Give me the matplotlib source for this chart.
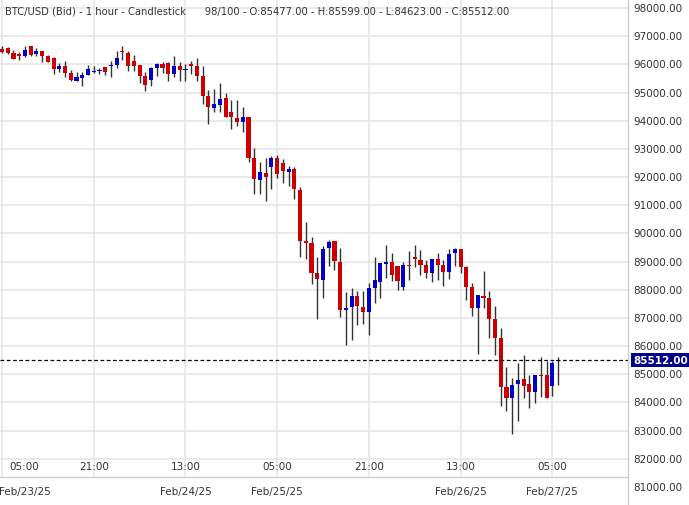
import matplotlib.pyplot as plt
import numpy as np

# hourly OHLC, Feb/23/25 05:00 onwards
opens = [96545, 96580, 96405, 96370, 96310, 96650, 96380, 96475, 96295, 96225,
         95850, 95940, 95695, 95420, 95530, 95635, 95715, 95750, 95905, 95930,
         95990, 96440, 96405, 96120, 95980, 95590, 95455, 95885, 96015, 96050,
         95670, 95940, 95790, 96010, 95940, 95600, 94890, 94465, 94560, 94805,
         94310, 94095, 93960, 94130, 92675, 91910, 92145, 92370, 92675, 92500,
         92190, 92285, 91540, 89730, 89660, 88595, 88360, 89495, 89730, 88985,
         87295, 87400, 87765, 87390, 87225, 88065, 88290, 88925, 88985, 88845,
         88110, 88890, 89165, 89055, 88880, 88610, 89090, 88880, 88640, 89295,
         89445, 88820, 88100, 87355, 87780, 87710, 86965, 86275, 84560, 84145,
         84645, 84835, 84655, 84385, 84975, 84975, 84585, 85477]
closes = [96450, 96405, 96200, 96310, 96510, 96345, 96475, 96310, 96095, 95850,
          95940, 95705, 95455, 95550, 95625, 95835, 95730, 95765, 95730, 95980,
          96225, 96425, 95955, 95955, 95600, 95280, 95870, 96015, 95885, 95660,
          95940, 95800, 95800, 95950, 95600, 94890, 94500, 94595, 94770, 94145,
          94145, 93960, 94130, 92690, 91945, 92180, 92015, 92675, 92120, 92225,
          92285, 91575, 89745, 89670, 88605, 88380, 89445, 89705, 89035, 87295,
          87355, 87765, 87435, 87225, 88050, 88345, 88950, 88985, 88535, 88325,
          88880, 88855, 89090, 88890, 88610, 89090, 88890, 88640, 89270, 89445,
          88820, 88110, 87355, 87815, 87710, 86965, 86275, 84560, 84145, 84620,
          84800, 84595, 84385, 84975, 84950, 84170, 85400, 85512]
highs = [96640, 96615, 96520, 96450, 96650, 96650, 96580, 96475, 96330, 96250,
         96060, 96120, 95800, 95730, 95740, 95980, 95930, 95870, 95905, 96110,
         96475, 96650, 96460, 96335, 95980, 95740, 95920, 96050, 96070, 96070,
         96295, 96095, 96025, 96120, 96225, 95955, 95090, 95125, 95340, 94985,
         94735, 94735, 94475, 94130, 93030, 92535, 92675, 92760, 92780, 92640,
         92380, 92370, 91660, 90405, 89875, 89165, 89565, 89765, 89730, 89480,
         87935, 88050, 87955, 87955, 88240, 89175, 88950, 89590, 89305, 88845,
         88975, 89365, 89590, 89410, 89055, 89090, 89305, 89070, 89445, 89480,
         89445, 88855, 88240, 87815, 88665, 87955, 87435, 86645, 85260, 84870,
         85400, 85685, 84975, 84975, 85615, 85460, 85485, 85599]
lows = [96405, 96370, 96190, 96165, 96275, 96310, 96285, 96095, 96095, 95670,
        95740, 95565, 95420, 95420, 95245, 95635, 95680, 95660, 95635, 95565,
        95885, 96155, 95765, 95765, 95340, 95065, 95245, 95600, 95695, 95420,
        95565, 95400, 95400, 95670, 95420, 94595, 93880, 94295, 94320, 94145,
        93705, 93825, 93610, 92545, 91400, 91400, 91160, 91575, 91965, 91790,
        91695, 91220, 89175, 89090, 88215, 86960, 87695, 88855, 88715, 87045,
        86050, 86230, 86760, 86800, 86405, 87530, 87710, 88405, 88325, 88005,
        88005, 88360, 88795, 88535, 88430, 88290, 88360, 88145, 88380, 88830,
        88585, 87650, 87080, 85730, 87355, 86275, 85695, 83885, 83710, 82895,
        83355, 84145, 83815, 83970, 84205, 84170, 84240, 84623]
last = 85512
tick_idx = [0, 16, 32, 48, 64, 80, 96]
tick_time = ['05:00', '21:00', '13:00', '05:00', '21:00', '13:00', '05:00']
tick_date = ['Feb/23/25', '', 'Feb/24/25', 'Feb/25/25', '', 'Feb/26/25', 'Feb/27/25']
y_ticks = list(range(81000, 98001, 1000))

W, H = 689, 506
fig = plt.figure(figsize=(W / 100, H / 100), dpi=100)
ax = fig.add_axes([0, 0, 628 / W, 1])
ymin, ymax = 80360, 98320
ax.set_ylim(ymin, ymax)
ax.set_xlim(-0.35, 109.2)
for s in ax.spines.values():
    s.set_visible(False)
ax.set_xticks([])
ax.set_yticks([])

base = ymax - 478 / H * (ymax - ymin)
for y in y_ticks:
    if y > base:
        ax.axhline(y, color='#e6e6e6', lw=1.2, zorder=0)
ax.vlines(tick_idx, base, ymax, color='#e6e6e6', lw=1.2, zorder=0)
ax.axhline(base, color='#cccccc', lw=1, zorder=0)

x = np.arange(len(opens))
o = np.array(opens); c = np.array(closes)
ax.vlines(x, lows, highs, color='#333333', lw=1, zorder=2)
cols = np.where(c >= o, '#0000cc', '#cc0000')
hgt = np.maximum(np.abs(c - o), 40)
ax.bar(x, hgt, bottom=np.minimum(o, c), width=0.72, color=cols, zorder=3)

ax.axhline(last, color='black', lw=0.9, ls=(0, (3, 2)), zorder=4)

for i, t, d in zip(tick_idx, tick_time, tick_date):
    xx = 3.95 if i == 0 else i
    ax.text(xx, base + 200, t, ha='center', va='bottom', fontsize=7.5, color='#333333')
    if d:
        ax.text(xx, base - 500, d, ha='center', va='center', fontsize=7.5, color='#333333')

# right price axis
rx = 633 / W
fig.add_artist(plt.Line2D([628 / W, 628 / W], [0, 1], color='#cccccc', lw=1))
for y in y_ticks:
    fy = (y - ymin) / (ymax - ymin)
    fig.text(rx, fy, f'{y:.2f}', ha='left', va='center', fontsize=7.5, color='#333333')
fy = (last - ymin) / (ymax - ymin)
fig.text(rx, fy, f'{last:.2f}', ha='left', va='center', fontsize=7.5, color='white',
         fontweight='bold', bbox=dict(boxstyle='square,pad=0.2', fc='#00008b', ec='none'))

fig.text(5 / W, 1 - 12 / H,
         'BTC/USD (Bid) - 1 hour - Candlestick      98/100 - O:85477.00 - H:85599.00 - L:84623.00 - C:85512.00',
         ha='left', va='center', fontsize=7.2, color='#333333')

fig.savefig('out.png', dpi=100)
